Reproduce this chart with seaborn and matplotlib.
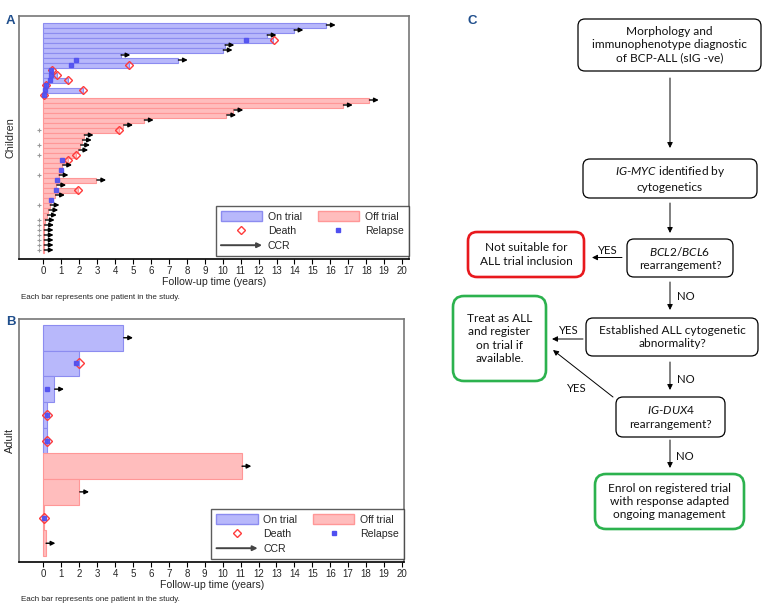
import numpy as np
import pandas as pd
import matplotlib
matplotlib.use("Agg")
import matplotlib.pyplot as plt
import seaborn as sns
from matplotlib.patches import Patch, FancyBboxPatch, FancyArrowPatch
from matplotlib.lines import Line2D
from matplotlib.legend_handler import HandlerBase

nan = np.nan

# ---------------- Panel A : children ----------------
child_status = ["On trial"] * 15 + ["Off trial"] * 31
child_time = [15.75, 13.95, 12.45, 12.8, 10.1, 10.0, 4.3, 7.5, 4.75, 0.47, 0.77, 1.35, 0.17, 2.2, 0.03,
              18.15, 16.7, 10.6, 10.2, 5.6, 4.45, 4.2, 2.25, 2.15, 2.05, 1.95, 1.8, 1.35, 1.05, 0.97,
              0.85, 2.95, 0.72, 1.95, 0.65, 0.45, 0.35, 0.28, 0.2, 0.08, 0.04, 0.02, 0.02, 0.02, 0.02, 0.02]
child_relapse = [nan, nan, nan, 11.3, nan, nan, nan, 1.8, 1.55, 0.45, 0.45, 0.35, 0.17, 0.08, 0.03,
                 nan, nan, nan, nan, nan, nan, nan, nan, nan, nan, nan, nan, 1.05, nan, 0.97,
                 nan, 0.75, nan, 0.68, nan, 0.43, nan, nan, nan, nan, nan, nan, nan, nan, nan, nan]
child_death = [nan, nan, nan, 12.85, nan, nan, nan, nan, 4.75, 0.47, 0.77, 1.35, 0.17, 2.2, 0.03,
               nan, nan, nan, nan, nan, nan, 4.2, nan, nan, nan, nan, 1.8, 1.35, nan, nan,
               nan, nan, nan, 1.95, nan, nan, nan, nan, nan, nan, nan, nan, nan, nan, nan, nan]
child_ccr = [1, 1, 1, 0, 1, 1, 1, 1, 0, 0, 0, 0, 0, 0, 0,
             1, 1, 1, 1, 1, 1, 0, 1, 1, 1, 1, 0, 0, 1, 0,
             1, 1, 1, 0, 1, 0, 1, 1, 1, 1, 1, 1, 1, 1, 1, 1]
child_plus = [0] * 15 + [0, 0, 0, 0, 0, 0, 1, 0, 0, 1, 0, 1, 0, 0, 0,
                         1, 0, 0, 0, 0, 0, 1, 0, 0, 1, 1, 1, 1, 1, 1, 1]

# ---------------- Panel B : adults ----------------
adult_status = ["On trial"] * 5 + ["Off trial"] * 4
adult_time = [4.45, 2.0, 0.6, 0.18, 0.18, 11.05, 2.0, 0.05, 0.12]
adult_relapse = [nan, 1.8, 0.2, 0.18, 0.18, nan, nan, 0.03, nan]
adult_death = [nan, 2.0, nan, 0.18, 0.18, nan, nan, 0.03, nan]
adult_ccr = [1, 0, 1, 0, 0, 1, 1, 0, 1]
adult_plus = [0] * 9

x_ticks = list(range(0, 21))
legend_labels = ["On trial", "Death", "CCR", "Off trial", "Relapse"]
footnote = "Each bar represents one patient in the study."

# ---------------- Panel C : flowchart text ----------------
flow_texts = [
    "Morphology and\nimmunophenotype diagnostic\nof BCP-ALL (sIG -ve)",
    r"$\mathit{IG}$-$\mathit{MYC}$ identified by" + "\ncytogenetics",
    r"$\mathit{BCL2/BCL6}$" + "\nrearrangement?",
    "Not suitable for\nALL trial inclusion",
    "Established ALL cytogenetic\nabnormality?",
    "Treat as ALL\nand register\non trial if\navailable.",
    r"$\mathit{IG}$-$\mathit{DUX4}$" + "\nrearrangement?",
    "Enrol on registered trial\nwith response adapted\nongoing management",
]

BLUE = "#b8b8fb"
BLUE_EDGE = "#8c8cf0"
PINK = "#ffbdbd"
PINK_EDGE = "#ff9797"
DEATH = "#ff3b3b"
RELAPSE = "#4f4ff0"
LETTER = "#1f4e8c"

sns.set_style("white")
plt.rcParams["font.family"] = ["Liberation Sans", "DejaVu Sans"]
plt.rcParams["mathtext.fontset"] = "custom"
plt.rcParams["mathtext.it"] = "Lato:italic"
plt.rcParams["mathtext.rm"] = "Lato"

W, H = 767, 605
fig = plt.figure(figsize=(W / 100, H / 100), dpi=100)


class ArrowHandler(HandlerBase):
    def create_artists(self, legend, orig_handle, xdescent, ydescent, width, height, fontsize, trans):
        y = height / 2 - ydescent
        a = FancyArrowPatch((-xdescent, y), (-xdescent + width, y), arrowstyle="-|>",
                            mutation_scale=7, lw=1.4, color="#444444", transform=trans,
                            shrinkA=0, shrinkB=0)
        return [a]


def swimmer(ax, status, time, relapse, death, ccr, plus, margin, xlim, ms_d, ms_r, ylabel):
    n = len(time)
    ids = [f"P{i:02d}" for i in range(n)]
    df = pd.DataFrame({"pid": ids, "time": time, "status": status})
    sns.barplot(data=df, x="time", y="pid", hue="status", order=ids,
                hue_order=["On trial", "Off trial"],
                palette={"On trial": BLUE, "Off trial": PINK}, dodge=False, width=1.0,
                saturation=1, errorbar=None, orient="h", legend=False, ax=ax, linewidth=0.8)
    for cont, ec in zip(ax.containers, [BLUE_EDGE, PINK_EDGE]):
        for bar in cont:
            bar.set_edgecolor(ec)
            bar.set_linewidth(0.8)
    y = np.arange(n)
    ax.plot(np.array(death, float), y, ls="none", marker="D", ms=ms_d, mfc="none",
            mec=DEATH, mew=1.0, zorder=4)
    ax.plot(np.array(relapse, float), y, ls="none", marker="s", ms=ms_r, color=RELAPSE,
            alpha=0.9, zorder=5)
    for i in range(n):
        if ccr[i]:
            t = time[i]
            ax.annotate("", xy=(t + 0.55, i), xytext=(t + 0.03, i),
                        arrowprops=dict(arrowstyle="-|>", color="black", lw=1.0,
                                        mutation_scale=6.5, shrinkA=0, shrinkB=0), zorder=6)
    pm = np.array(plus, bool)
    if pm.any():
        ax.plot(np.full(pm.sum(), -0.24), y[pm], ls="none", marker="+", ms=3.5,
                color="#9a9a9a", mew=0.8)
    ax.set_xlim(*xlim)
    ax.set_ylim(n - 0.5 + margin, -0.5 - margin)
    ax.set_yticks([])
    ax.set_xticks(x_ticks)
    ax.set_xticklabels([str(v) for v in x_ticks], fontsize=7)
    ax.tick_params(axis="x", bottom=True, direction="out", length=3.5, width=0.8, pad=1.5,
                   color="black")
    ax.set_xlabel("Follow-up time (years)", fontsize=7.6, labelpad=1)
    ax.set_ylabel(ylabel, fontsize=7.8)
    ax.yaxis.set_label_coords(-0.01, 0.5)
    for s in ["top", "right", "left"]:
        ax.spines[s].set_color("#777777")
        ax.spines[s].set_linewidth(1.2)
    ax.spines["bottom"].set_color("black")
    ax.spines["bottom"].set_linewidth(1.2)

    handles = [Patch(facecolor=BLUE, edgecolor=BLUE_EDGE),
               Line2D([], [], ls="none", marker="D", ms=4.5, mfc="none", mec=DEATH, mew=1.0),
               FancyArrowPatch((0, 0), (1, 0)),
               Patch(facecolor=PINK, edgecolor=PINK_EDGE),
               Line2D([], [], ls="none", marker="s", ms=2.8, color=RELAPSE)]
    leg = ax.legend(handles, legend_labels, ncol=2, loc="lower right",
                    bbox_to_anchor=(1.0, 0.012), borderaxespad=0, fontsize=7.6,
                    handlelength=3.9, handleheight=1.05, labelspacing=0.38, columnspacing=1.5,
                    handletextpad=0.55, borderpad=0.5, frameon=True, fancybox=False,
                    handler_map={FancyArrowPatch: ArrowHandler()})
    leg.get_frame().set_edgecolor("#333333")
    leg.get_frame().set_linewidth(1.0)


def fx(px):
    return px / W


def fy(py):
    return 1 - py / H


axA = fig.add_axes([fx(19), fy(259), fx(408.7) - fx(19), (259 - 16) / H])
swimmer(axA, child_status, child_time, child_relapse, child_death, child_ccr, child_plus,
        margin=1.3, xlim=(-1.36, 20.37), ms_d=4.3, ms_r=2.6, ylabel="Children")

axB = fig.add_axes([fx(19), fy(562), fx(404.3) - fx(19), (562 - 319) / H])
swimmer(axB, adult_status, adult_time, adult_relapse, adult_death, adult_ccr, adult_plus,
        margin=0.23, xlim=(-1.36, 20.13), ms_d=4.6, ms_r=3.0, ylabel="Adult")

fig.text(fx(21), fy(297), footnote, fontsize=5.8, ha="left", va="center")
fig.text(fx(21), fy(599.5), footnote, fontsize=5.8, ha="left", va="center")
fig.text(fx(10), fy(21), "A", fontsize=9.5, fontweight="bold", color=LETTER, ha="center", va="center")
fig.text(fx(11), fy(322), "B", fontsize=9.5, fontweight="bold", color=LETTER, ha="center", va="center")
fig.text(fx(472), fy(20.5), "C", fontsize=9.5, fontweight="bold", color=LETTER, ha="center", va="center")

# ---------------- Flowchart ----------------
axC = fig.add_axes([fx(420), 0, 1 - fx(420), 1])
axC.set_xlim(420, W)
axC.set_ylim(H, 0)
axC.axis("off")
FS = 8.6


def box(x0, y0, x1, y1, text, ec="black", lw=0.9, r=7):
    p = FancyBboxPatch((x0, y0), x1 - x0, y1 - y0,
                       boxstyle=f"round,pad=0,rounding_size={r}", fc="white", ec=ec, lw=lw)
    axC.add_patch(p)
    axC.text((x0 + x1) / 2, (y0 + y1) / 2, text, ha="center", va="center", fontsize=FS,
             linespacing=1.25, family=["Lato", "DejaVu Sans"], color="#111111")


def arrow(x0, y0, x1, y1):
    axC.annotate("", xy=(x1, y1), xytext=(x0, y0),
                 arrowprops=dict(arrowstyle="-|>", color="black", lw=0.7, mutation_scale=8,
                                 shrinkA=0, shrinkB=0))


def label(x, y, t):
    axC.text(x, y, t, ha="center", va="center", fontsize=FS - 0.4,
             family=["Lato", "DejaVu Sans"], color="#111111")


RED = "#e8181d"
GREEN = "#2cb24e"
box(578, 19, 761, 71, flow_texts[0])
box(583, 159, 757, 198, flow_texts[1])
box(627, 239, 733, 277, flow_texts[2])
box(468, 232, 584, 277, flow_texts[3], ec=RED, lw=1.9, r=9)
box(586, 318, 758, 356, flow_texts[4])
box(453, 296, 546, 381, flow_texts[5], ec=GREEN, lw=1.9, r=11)
box(616, 397, 725, 437, flow_texts[6])
box(595, 474, 744, 529, flow_texts[7], ec=GREEN, lw=1.9, r=11)

arrow(670, 78, 670, 148)
arrow(670, 203, 670, 233)
arrow(622, 257.5, 592, 257.5)
label(608, 251, "YES")
arrow(670, 282, 670, 310)
label(686, 296, "NO")
arrow(583, 339, 552, 339)
label(569, 331, "YES")
arrow(670, 362, 670, 390)
label(686, 379.5, "NO")
arrow(613, 397, 553, 350)
label(577, 389, "YES")
arrow(670, 440, 670, 468)
label(685, 456, "NO")

fig.savefig("out.png", dpi=100)
